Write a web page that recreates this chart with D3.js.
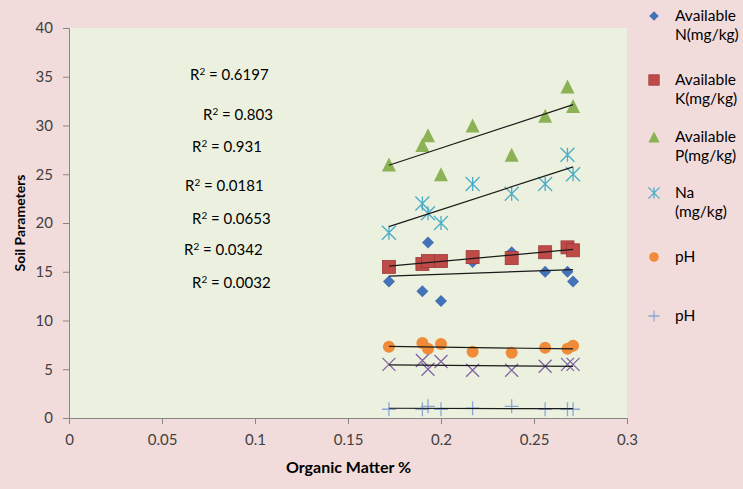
<!DOCTYPE html>
<html><head><meta charset="utf-8">
<script src="https://cdn.jsdelivr.net/npm/d3@7"></script>
<style>
html,body{margin:0;padding:0;background:#F2DCDB;}
svg{display:block;font-family:Lato,"Open Sans",sans-serif;}
</style></head>
<body><svg id="c" width="743" height="489"></svg>
<script>
const organicMatter = [0.172, 0.190, 0.193, 0.200, 0.217, 0.238, 0.256, 0.268, 0.271];
const availN  = [14, 13, 18, 12, 16, 17, 15, 15, 14];
const availK  = [15.5, 15.8, 16.1, 16.1, 16.5, 16.4, 17.0, 17.5, 17.2];
const availP  = [26, 28, 29, 25, 30, 27, 31, 34, 32];
const na      = [19, 22, 21, 20, 24, 23, 24, 27, 25];
const pH1     = [7.3, 7.7, 7.1, 7.6, 6.8, 6.7, 7.2, 7.1, 7.4];
const series7 = [5.5, 5.9, 5.0, 5.8, 4.9, 4.9, 5.3, 5.5, 5.5];
const pH2     = [0.9, 0.9, 1.2, 0.9, 1.0, 1.2, 0.9, 0.9, 0.9];
const xTicks = [0, 0.05, 0.1, 0.15, 0.2, 0.25, 0.3];
const yTicks = [0, 5, 10, 15, 20, 25, 30, 35, 40];
const r2Labels = ["0.6197", "0.803", "0.931", "0.0181", "0.0653", "0.0342", "0.0032"];
const legendNames = [["Available", "N(mg/kg)"], ["Available", "K(mg/kg)"], ["Available", "P(mg/kg)"], ["Na", "(mg/kg)"], ["pH"], ["pH"]];

const series = [
  {v: availN, sym: "diamond", fill: "#4472B8", stroke: "none"},
  {v: availK, sym: "square", fill: "#BE4B48", stroke: "#9E3A38"},
  {v: availP, sym: "triangle", fill: "#8DB255", stroke: "none"},
  {v: na, sym: "asterisk", fill: "none", stroke: "#4BACC6"},
  {v: pH1, sym: "circle", fill: "#F08B3A", stroke: "none"},
  {v: series7, sym: "x", fill: "none", stroke: "#8064A2"},
  {v: pH2, sym: "plus", fill: "none", stroke: "#8AA8D6"}
];

const svg = d3.select("#c");
const L = 69, R = 627, T = 28, B = 418;
const x = d3.scaleLinear().domain([0, 0.3]).range([L, R]);
const y = d3.scaleLinear().domain([0, 40]).range([B, T]);

svg.append("rect").attr("x", L).attr("y", T).attr("width", R - L).attr("height", B - T).attr("fill", "#EBF1DE");

const xAxis = svg.append("g").attr("transform", `translate(0,${B})`)
  .call(d3.axisBottom(x).tickValues(xTicks).tickSize(6).tickPadding(10).tickFormat(d => String(d)));
const yAxis = svg.append("g").attr("transform", `translate(${L},0)`)
  .call(d3.axisLeft(y).tickValues(yTicks).tickSize(6).tickPadding(10));
[xAxis, yAxis].forEach(g => {
  g.selectAll("path,line").attr("stroke", "#868686");
  g.selectAll("text").attr("fill", "#404040").style("font-size", "15px").style("font-family", "Lato,sans-serif");
});

svg.append("text").attr("x", 348.5).attr("y", 473).attr("text-anchor", "middle")
  .style("font-size", "16px").style("font-weight", "bold").attr("fill", "#000").text("Organic Matter %");
svg.append("text").attr("transform", `translate(25,${(T + B) / 2}) rotate(-90)`).attr("text-anchor", "middle")
  .style("font-size", "14px").style("font-weight", "bold").attr("fill", "#000").text("Soil Parameters");

function drawMarker(g, s, size) {
  const h = size / 2;
  if (s.sym === "diamond") g.append("path").attr("d", `M0,${-h}L${h},0L0,${h}L${-h},0Z`).attr("fill", s.fill);
  else if (s.sym === "square") g.append("rect").attr("x", -h).attr("y", -h).attr("width", size).attr("height", size).attr("fill", s.fill).attr("stroke", s.stroke).attr("stroke-width", 0.8);
  else if (s.sym === "triangle") g.append("path").attr("d", `M0,${-h}L${h},${h}L${-h},${h}Z`).attr("fill", s.fill);
  else if (s.sym === "circle") g.append("circle").attr("r", h).attr("fill", s.fill);
  else if (s.sym === "x") g.append("path").attr("d", `M${-h},${-h}L${h},${h}M${-h},${h}L${h},${-h}`).attr("stroke", s.stroke).attr("stroke-width", 1.3);
  else if (s.sym === "plus") g.append("path").attr("d", `M${-h},0L${h},0M0,${-h}L0,${h}`).attr("stroke", s.stroke).attr("stroke-width", 1.3);
  else if (s.sym === "asterisk") g.append("path").attr("d", `M${-h},${-h}L${h},${h}M${-h},${h}L${h},${-h}M0,${-h}L0,${h}`).attr("stroke", s.stroke).attr("stroke-width", 1.3);
}
const sizes = {diamond: 12, square: 13, triangle: 14, circle: 12, x: 13, plus: 14, asterisk: 14};

// markers
series.forEach(s => {
  organicMatter.forEach((om, i) => {
    const g = svg.append("g").attr("transform", `translate(${x(om)},${y(s.v[i])})`);
    drawMarker(g, s, sizes[s.sym]);
  });
});

// trend lines (least squares)
const xmin = d3.min(organicMatter), xmax = d3.max(organicMatter);
series.forEach(s => {
  const mx = d3.mean(organicMatter), my = d3.mean(s.v);
  let sxy = 0, sxx = 0;
  organicMatter.forEach((om, i) => { sxy += (om - mx) * (s.v[i] - my); sxx += (om - mx) ** 2; });
  const b = sxy / sxx, a = my - b * mx;
  svg.append("line").attr("x1", x(xmin)).attr("y1", y(a + b * xmin)).attr("x2", x(xmax)).attr("y2", y(a + b * xmax))
    .attr("stroke", "#1a1a1a").attr("stroke-width", 1.2);
});

// R² labels
const r2Pos = [[190, 80], [203, 120], [192, 152], [185, 191], [192, 224], [184, 255], [192, 288]];
r2Labels.forEach((t, i) => {
  const tx = svg.append("text").attr("x", r2Pos[i][0]).attr("y", r2Pos[i][1]).style("font-size", "15px").attr("fill", "#000");
  tx.append("tspan").text("R");
  tx.append("tspan").attr("dy", -5).style("font-size", "10px").text("2");
  tx.append("tspan").attr("dy", 5).text(" = " + t);
});

// legend
const legendY = [16, 80, 137, 193, 257, 316];
const legendSeries = [0, 1, 2, 3, 4, 6];
legendSeries.forEach((si, k) => {
  const g = svg.append("g").attr("transform", `translate(654,${legendY[k]})`);
  drawMarker(g, series[si], sizes[series[si].sym] * 0.8);
  const names = legendNames[k];
  names.forEach((n, j) => {
    svg.append("text").attr("x", 675).attr("y", legendY[k] + 5 + j * 19).style("font-size", "15.5px").attr("fill", "#000").text(n);
  });
});
</script></body></html>
